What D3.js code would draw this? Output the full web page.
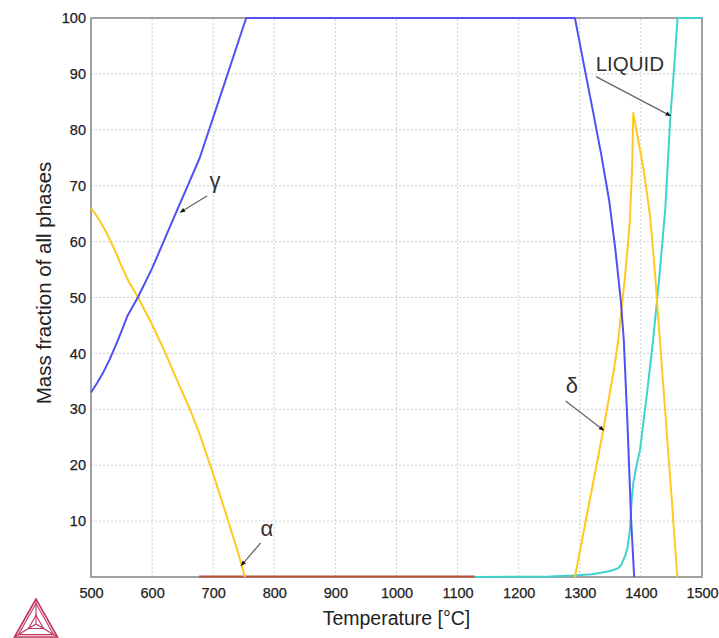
<!DOCTYPE html>
<html><head><meta charset="utf-8">
<script src="https://cdn.jsdelivr.net/npm/d3@7"></script>
<style>body{margin:0;background:#fff}svg{display:block}text{font-family:"Liberation Sans",Arial,sans-serif}</style>
</head><body><svg id="c" width="719" height="638"></svg>
<script>
// ---- data ----
const xTicks = [500,600,700,800,900,1000,1100,1200,1300,1400,1500];
const yTicks = [10,20,30,40,50,60,70,80,90,100];

const gammaT = [500,510,520,530,540,550,560,577,600,620,640,660,678,700,720,740,754,1292,1305,1320,1335,1348,1358,1367,1372,1378,1384,1389];
const gammaV = [33,34.7,36.6,38.8,41.3,44,46.8,50.1,55.2,60.3,65.4,70.4,75,82.2,88.8,95.4,100,100,92.6,84.2,75.6,67.4,58.8,49.6,42.4,27.5,10.2,0];

const alphaT = [500,508,516,524,532,540,548,561,577,599,620,640,660,678,700,720,740,752];
const alphaV = [66,64.8,63.4,61.9,60.1,58.2,56.1,53,50,45.4,40.5,35.4,30.5,25.5,18.4,11.6,4.6,0];

const deltaT = [1292,1315,1338.4,1356,1363,1369,1376,1382,1385.5,1387.5,1395,1405,1415,1423,1431,1440,1450,1459.5];
const deltaV = [0,13,26.3,37.2,42.4,48.5,56,63.9,73,83,78.5,72.5,64.5,54.5,42.4,29.3,14.6,0];

const liquidT = [1128,1200,1250,1290,1320,1344,1356,1363,1368,1371,1375,1378,1382,1385,1387.5,1393,1398.5,1409.4,1420,1430,1440,1448,1455,1460,1500];
const liquidV = [0,0.05,0.1,0.25,0.5,0.95,1.3,1.6,2.2,3,4,5.2,8.4,13.8,16.8,20,22.7,32.3,42.4,53.5,66,82,92,100,100];

const cementT = [677,1128];
const cementV = [0.1,0.1];

const labels = ["γ","α","δ","LIQUID"];
const labelT = [703,788,1287,1326];
const labelV = [69.6,7.3,32.9,90.6];
const arrowFromT = [690.3,777.7,1276.8,1326.5];
const arrowFromV = [68.2,6.1,31.5,89.5];
const arrowToT = [645.7,745.5,1339.6,1448.8];
const arrowToV = [65.2,2.0,26.2,82.5];

// ---- chart ----
const svg = d3.select("#c");
const x = d3.scaleLinear().domain([500,1500]).range([91,702]);
const y = d3.scaleLinear().domain([0,100]).range([577,18]);

// grid
svg.append("g").selectAll("line").data(xTicks.slice(1,-1)).join("line")
  .attr("x1",d=>x(d)).attr("x2",d=>x(d)).attr("y1",y(0)).attr("y2",y(100))
  .attr("stroke","#cfcfcf").attr("stroke-width",1).attr("stroke-dasharray","2,2");
svg.append("g").selectAll("line").data(yTicks.slice(0,-1)).join("line")
  .attr("y1",d=>y(d)).attr("y2",d=>y(d)).attr("x1",x(500)).attr("x2",x(1500))
  .attr("stroke","#cfcfcf").attr("stroke-width",1).attr("stroke-dasharray","2,2");

// axes
const xa = svg.append("g").attr("transform",`translate(0,${y(0)})`)
  .call(d3.axisBottom(x).tickValues(xTicks).tickSize(0).tickPadding(11).tickFormat(d3.format("d")));
const ya = svg.append("g").attr("transform",`translate(${x(500)},0)`)
  .call(d3.axisLeft(y).tickValues(yTicks).tickSize(0).tickPadding(5).tickFormat(d3.format("d")));
[xa,ya].forEach(a=>{a.select(".domain").remove();
  a.selectAll("text").attr("font-size",14.5).attr("fill","#222").attr("stroke","#222").attr("stroke-width",0.25)
   .attr("font-family","'Liberation Sans',Arial,sans-serif");});

// frame
svg.append("rect").attr("x",x(500)).attr("y",y(100)).attr("width",x(1500)-x(500)).attr("height",y(0)-y(100))
  .attr("fill","none").attr("stroke","#a0a0a0").attr("stroke-width",2);

// lines
const line = d3.line().x(d=>x(d[0])).y(d=>y(d[1]));
const zip = (a,b)=>a.map((v,i)=>[v,b[i]]);
const series = [
  {T:cementT,V:cementV,c:"#b8503a"},
  {T:liquidT,V:liquidV,c:"#3fd3cf"},
  {T:alphaT,V:alphaV,c:"#ffc91f"},
  {T:deltaT,V:deltaV,c:"#ffc91f"},
  {T:gammaT,V:gammaV,c:"#5050f5"}
];
const plot = svg.append("g");
series.forEach(s=>plot.append("path").attr("d",line(zip(s.T,s.V)))
  .attr("fill","none").attr("stroke",s.c).attr("stroke-width",2).attr("stroke-linejoin","round"));

// annotations
const ann = svg.append("g");
labels.forEach((t,i)=>{
  const x1=x(arrowFromT[i]), y1=y(arrowFromV[i]), x2=x(arrowToT[i]), y2=y(arrowToV[i]);
  ann.append("line").attr("x1",x1).attr("y1",y1).attr("x2",x2).attr("y2",y2)
    .attr("stroke","#666").attr("stroke-width",1.3);
  const ang=Math.atan2(y2-y1,x2-x1);
  const L=5,W=2.2;
  const p=[[x2,y2],[x2-L*Math.cos(ang)+W*Math.sin(ang),y2-L*Math.sin(ang)-W*Math.cos(ang)],
           [x2-L*Math.cos(ang)-W*Math.sin(ang),y2-L*Math.sin(ang)+W*Math.cos(ang)]];
  ann.append("path").attr("d","M"+p.map(q=>q.join(",")).join("L")+"Z").attr("fill","#111");
  ann.append("text").attr("x",x(labelT[i])).attr("y",y(labelV[i]))
    .attr("text-anchor",t==="LIQUID"?"start":"middle")
    .attr("font-size",t==="LIQUID"?20.5:22).attr("fill","#333").text(t);
});

// axis titles
svg.append("text").attr("x",(x(500)+x(1500))/2).attr("y",625).attr("text-anchor","middle")
  .attr("font-size",19.5).attr("fill","#222").text("Temperature [°C]");
svg.append("text").attr("transform",`translate(51,283) rotate(-90)`).attr("text-anchor","middle")
  .attr("font-size",20.5).attr("fill","#222").text("Mass fraction of all phases");

// logo
const lg = svg.append("g").attr("fill","none").attr("stroke","#c0335c").attr("stroke-width",1.1);
const A=[36,599],B=[14.5,637],C=[57.5,637],O=[36,624];
const tri=(a,b,c)=>"M"+a+"L"+b+"L"+c+"Z";
lg.append("path").attr("d",tri(A,B,C)).attr("stroke-width",1.6);
const shrink=(P,k)=>[O[0]+(P[0]-O[0])*k,O[1]+(P[1]-O[1])*k];
lg.append("path").attr("d",tri(shrink(A,0.82),shrink(B,0.82),shrink(C,0.82)));
lg.append("path").attr("d",tri(shrink(A,0.35),shrink(B,0.35),shrink(C,0.35)));
[A,B,C].forEach(P=>lg.append("line").attr("x1",O[0]).attr("y1",O[1]).attr("x2",P[0]).attr("y2",P[1]));
</script></body></html>
